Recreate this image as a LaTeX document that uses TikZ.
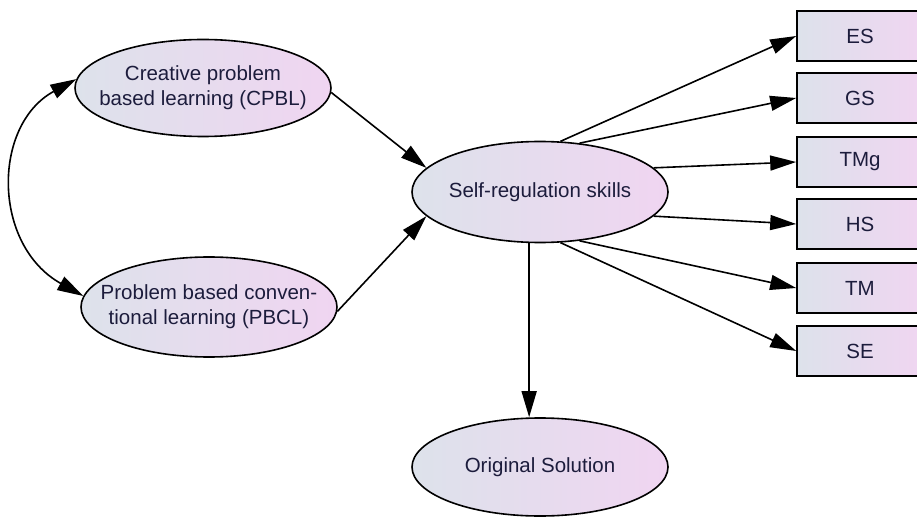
\documentclass[tikz,border=0pt]{standalone}
\usepackage{fontspec}
\setmainfont{Liberation Sans}
\usetikzlibrary{shapes.geometric,arrows.meta}
\definecolor{lcol}{HTML}{DDE2EB}
\definecolor{rcol}{HTML}{F0D5F1}
\definecolor{tcol}{HTML}{1C1C3C}
\tikzset{
  lat/.style={ellipse, draw=black, line width=1.6pt, left color=lcol, right color=rcol,
    minimum width=256pt, minimum height=97pt, inner sep=0pt},
  txt/.style={align=center, inner sep=0pt, text=tcol, font=\fontsize{20.5}{25}\selectfont},
  obs/.style={rectangle, draw=black, line width=1.6pt, left color=lcol, right color=rcol,
    minimum width=126pt, minimum height=50pt, inner sep=0pt,
    text=tcol, font=\fontsize{20.5}{25}\selectfont},
  arr/.style={line width=1.6pt, -{Triangle[length=26pt,width=15pt]}},
  dbl/.style={line width=1.6pt, {Triangle[length=26pt,width=15pt]}-{Triangle[length=26pt,width=15pt]}},
}
\begin{document}
\begin{tikzpicture}[x=1pt,y=-1pt]
\useasboundingbox (0,0) rectangle (917,518);
\node[lat, label={[txt]center:Creative problem\\based learning (CPBL)}] (cpbl) at (203,88) {};
\node[lat, minimum height=100pt, label={[txt]center:Problem based conven-\\tional learning (PBCL)}] (pbcl) at (209,307) {};
\node[lat, minimum height=101pt, label={[txt]center:Self-regulation skills}] (srs) at (540,192) {};
\node[lat, minimum height=98pt, label={[txt]center:Original Solution}] (os) at (540,467) {};
\node[obs] (es) at (860,36) {ES};
\node[obs] (gs) at (860,98) {GS};
\node[obs] (tmg) at (860,162) {TMg};
\node[obs] (hs) at (860,224) {HS};
\node[obs] (tm) at (860,288) {TM};
\node[obs] (se) at (860,351) {SE};
\draw[arr] (cpbl.-2) -- (srs.168);
\draw[arr] (pbcl.-2) -- (srs.192);
\draw[arr] (srs.68) -- (es.west);
\draw[arr] (srs.51) -- (gs.west);
\draw[arr] (srs.12) -- (tmg.west);
\draw[arr] (srs.-12) -- (hs.west);
\draw[arr] (srs.-51) -- (tm.west);
\draw[arr] (srs.-68) -- (se.west);
\draw[arr] (srs.-102) -- (os.north -| srs.-102);
\coordinate (c1) at (-8,125);
\coordinate (c2) at (-8,245);
\draw[dbl] (cpbl.176) .. controls (c1) and (c2) .. (pbcl.175);
\end{tikzpicture}
\end{document}
